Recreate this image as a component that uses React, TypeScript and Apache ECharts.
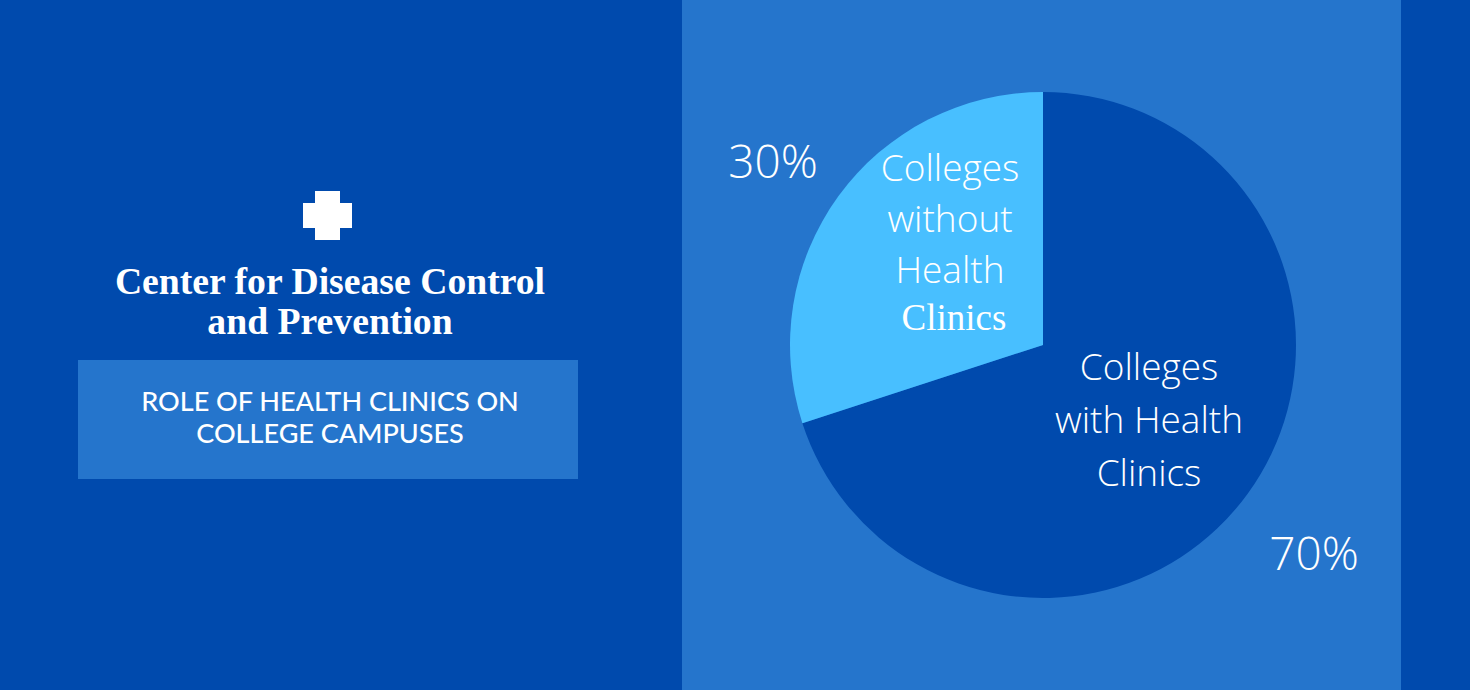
import React, { useEffect, useRef } from "react";
import * as echarts from "echarts";

const sliceNames = ["Colleges with Health Clinics", "Colleges without Health Clinics"];
const sliceValues = [70, 30];
const sliceColors = ["#004AAD", "#48BFFF"];
const percentLabels = ["70%", "30%"];
const withLines = ["Colleges", "with Health", "Clinics"];
const withoutLines = ["Colleges", "without", "Health"];
const withoutLast = "Clinics";
const titleLines = ["Center for Disease Control", "and Prevention"];
const subtitleLines = ["ROLE OF HEALTH CLINICS ON", "COLLEGE CAMPUSES"];

const SANS = "Lato";
const LABEL = "Open Sans";
const SERIF = "Liberation Serif";

function txt(text: string, x: number, y: number, fontSize: number, extra: any = {}, el: any = {}) {
  return {
    type: "text",
    x,
    y,
    z: 10,
    ...el,
    style: {
      text,
      fill: "#FFFFFF",
      fontSize,
      fontFamily: SANS,
      align: "center",
      verticalAlign: "middle",
      ...extra,
    },
  };
}

export default function App() {
  const ref = useRef<HTMLDivElement>(null);
  useEffect(() => {
    document.body.style.margin = "0";
    const chart = echarts.init(ref.current!, null, { renderer: "svg" });
    const label = { fontFamily: LABEL, fontWeight: 300 };
    chart.setOption({
      animation: false,
      backgroundColor: "#004AAD",
      graphic: [
        { type: "rect", z: -10, shape: { x: 682, y: 0, width: 719, height: 690 }, style: { fill: "#2575CC" } },
        { type: "rect", z: 1, shape: { x: 78, y: 360, width: 500, height: 119 }, style: { fill: "#2575CC" } },
        {
          type: "polygon",
          z: 1,
          shape: {
            points: [
              [315, 191], [340, 191], [340, 203], [352, 203], [352, 228], [340, 228],
              [340, 240], [315, 240], [315, 228], [303, 228], [303, 203], [315, 203],
            ],
          },
          style: { fill: "#FFFFFF" },
        },
        txt(titleLines.join("\n"), 330, 301, 37.7, { fontFamily: SERIF, fontWeight: "bold", lineHeight: 40 }),
        txt(subtitleLines.join("\n"), 330, 417.5, 26, { fontWeight: 500, lineHeight: 32 }, { scaleX: 1.04 }),
        txt(percentLabels[1], 773, 160, 46, label),
        txt(percentLabels[0], 1314, 552, 46, label),
        txt(withoutLines.join("\n"), 950, 217, 37, { ...label, lineHeight: 51 }),
        txt(withoutLast, 954, 317, 37, { fontFamily: SERIF }),
        txt(withLines.join("\n"), 1149, 418, 37, { ...label, lineHeight: 53 }),
      ],
      series: [
        {
          type: "pie",
          center: [1043, 345],
          radius: [0, 253],
          startAngle: 90,
          clockwise: true,
          silent: true,
          label: { show: false },
          labelLine: { show: false },
          data: sliceNames.map((name, i) => ({
            name,
            value: sliceValues[i],
            itemStyle: { color: sliceColors[i] },
          })),
        },
      ],
    });
    return () => chart.dispose();
  }, []);
  return <div ref={ref} style={{ position: "absolute", left: 0, top: 0, width: 1470, height: 690 }} />;
}
